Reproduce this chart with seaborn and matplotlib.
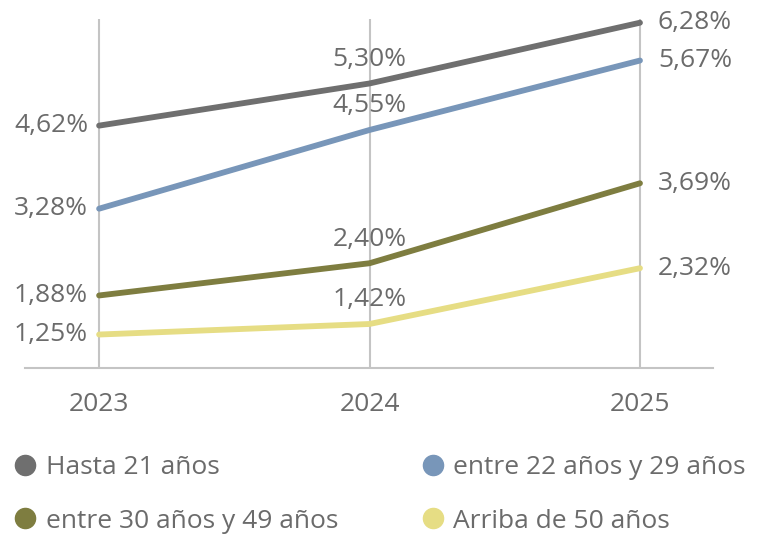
import matplotlib
matplotlib.use("Agg")
import matplotlib.pyplot as plt
import seaborn as sns
import pandas as pd
from matplotlib.lines import Line2D

# Rotation rate by age band, per year
years = [2023, 2024, 2025]
series_names = ["Hasta 21 años", "entre 22 años y 29 años",
                "entre 30 años y 49 años", "Arriba de 50 años"]
hasta_21 = [4.62, 5.30, 6.28]
entre_22_29 = [3.28, 4.55, 5.67]
entre_30_49 = [1.88, 2.40, 3.69]
arriba_50 = [1.25, 1.42, 2.32]
colors = ["#6f6f6f", "#7896b9", "#7e7d40", "#e6dd84"]

values = [hasta_21, entre_22_29, entre_30_49, arriba_50]
rows = []
for name, vals in zip(series_names, values):
    for y, v in zip(years, vals):
        rows.append({"year": y, "value": v, "serie": name})
df = pd.DataFrame(rows)

sns.set_theme(style="white")
plt.rcParams["font.family"] = ["Open Sans", "DejaVu Sans"]
text_color = "#6b6b6b"
grid_color = "#c4c4c4"
fs = 19

W, H = 782, 539
fig = plt.figure(figsize=(W / 100, H / 100), dpi=100)
ax = fig.add_axes([25 / W, 1 - 368 / H, 688 / W, 349 / H])

sns.lineplot(data=df, x="year", y="value", hue="serie", hue_order=series_names,
             palette=colors, linewidth=4.2, legend=False, ax=ax)

ax.set_xlim(2022.726, 2025.27)
ax.set_ylim(0.71, 6.34)
ax.set_xticks(years)
ax.set_xticklabels([str(y) for y in years], color=text_color, fontsize=fs)
ax.tick_params(axis="x", length=0, pad=17)
ax.set_yticks([])
ax.set_xlabel("")
ax.set_ylabel("")
ax.set_axisbelow(True)
ax.xaxis.grid(True, color=grid_color, linewidth=1.5)
for side in ["top", "left", "right"]:
    ax.spines[side].set_visible(False)
ax.spines["bottom"].set_color(grid_color)
ax.spines["bottom"].set_linewidth(1.5)


def fmt(v):
    return f"{v:.2f}".replace(".", ",") + "%"


for vals in values:
    # first year: label to the left
    ax.annotate(fmt(vals[0]), (years[0], vals[0]), xytext=(-11, 0),
                textcoords="offset pixels", ha="right", va="center",
                fontsize=fs, color=text_color)
    # middle year: label above
    ax.annotate(fmt(vals[1]), (years[1], vals[1]), xytext=(0, 24),
                textcoords="offset pixels", ha="center", va="center",
                fontsize=fs, color=text_color)
    # last year: label to the right
    ax.annotate(fmt(vals[2]), (years[2], vals[2]), xytext=(18, 0),
                textcoords="offset pixels", ha="left", va="center",
                fontsize=fs, color=text_color)

handles = [Line2D([], [], linestyle="none", marker="o", markersize=14.5,
                  markerfacecolor=c, markeredgecolor=c, label=n)
           for n, c in zip(series_names, colors)]
order = [0, 2, 1, 3]
fig.legend([handles[i] for i in order], [series_names[i] for i in order],
           ncol=2, loc="upper left", bbox_to_anchor=(12 / W, 1 - 455 / H),
           frameon=False, fontsize=fs, labelcolor=text_color,
           handlelength=1.0, handletextpad=0.27, columnspacing=3.1,
           labelspacing=1.08, borderpad=0, borderaxespad=0)

fig.savefig("out.png", dpi=100)
